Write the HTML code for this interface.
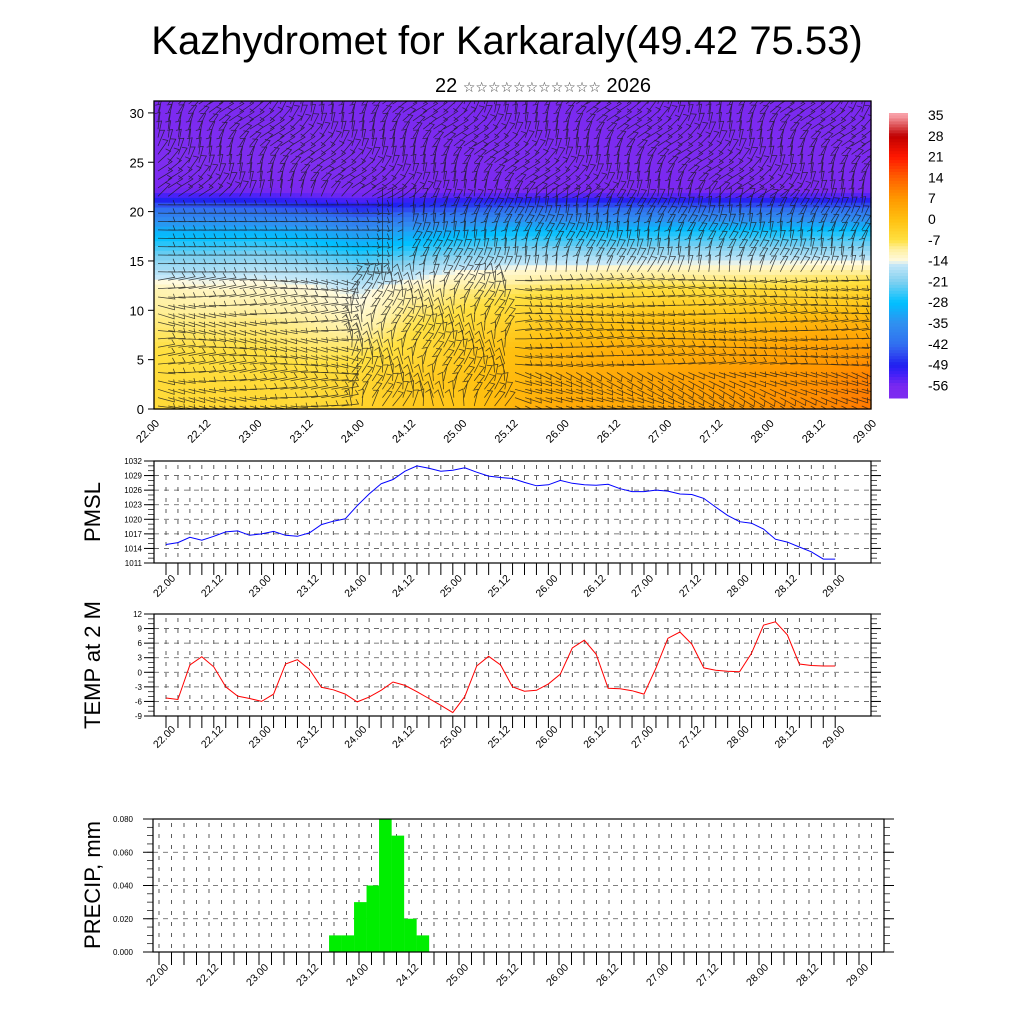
<!DOCTYPE html>
<html><head><meta charset="utf-8"><style>
body{margin:0;background:#fff}
svg{display:block;font-family:"Liberation Sans","DejaVu Sans",sans-serif}
</style></head><body>
<svg id="chart" width="1024" height="1024" viewBox="0 0 1024 1024" xmlns="http://www.w3.org/2000/svg">
<defs><clipPath id="topclip"><rect x="154" y="101" width="717" height="308"/></clipPath></defs>
<text x="507" y="54" font-size="40" text-anchor="middle">Kazhydromet for Karkaraly(49.42 75.53)</text>
<text x="543" y="92" font-size="20" text-anchor="middle">22 <tspan font-size="14" fill="#444">☆☆☆☆☆☆☆☆☆☆☆</tspan> 2026</text>
<g id="field"></g>
<g id="wind" clip-path="url(#topclip)"></g>
<g id="top-axes"></g>
<g id="cbar"></g>
<g id="pmsl"></g>
<g id="temp"></g>
<g id="precip"></g>
</svg>
<script>
const timeLabels=["22.00","22.12","23.00","23.12","24.00","24.12","25.00","25.12","26.00","26.12","27.00","27.12","28.00","28.12","29.00"];
const pmslValues=[1014.8,1015.2,1016.3,1015.7,1016.5,1017.4,1017.6,1016.7,1017.0,1017.5,1016.7,1016.5,1017.2,1018.9,1019.6,1020.1,1022.8,1025.2,1027.3,1028.2,1029.9,1031.0,1030.5,1029.9,1030.1,1030.6,1029.7,1028.9,1028.6,1028.4,1027.6,1026.9,1027.1,1028.0,1027.4,1027.1,1027.0,1027.2,1026.3,1025.7,1025.7,1026.0,1025.8,1025.2,1025.1,1024.3,1022.5,1020.8,1019.5,1019.2,1018.0,1015.9,1015.3,1014.3,1013.3,1011.8,1011.8];
const pmslTicks=[1011,1014,1017,1020,1023,1026,1029,1032];
const tempValues=[-5.3,-5.6,1.5,3.2,1.1,-3.0,-4.9,-5.4,-6.0,-4.5,1.7,2.6,0.6,-3.1,-3.6,-4.5,-6.1,-5.1,-3.7,-2.0,-2.7,-4.0,-5.4,-6.8,-8.3,-5.0,1.3,3.3,1.5,-3.0,-3.9,-3.7,-2.4,-0.4,5.0,6.6,3.7,-3.3,-3.4,-3.8,-4.5,0.9,7.0,8.3,5.8,0.9,0.4,0.2,0.1,3.9,9.7,10.4,7.7,1.7,1.4,1.3,1.3];
const tempTicks=[-9,-6,-3,0,3,6,9,12];
const precipIndex=[14,15,16,17,18,19,20,21];
const precipValues=[0.01,0.01,0.03,0.04,0.08,0.07,0.02,0.01];
const precipTicks=["0.000","0.020","0.040","0.060","0.080"];
const fieldLevels=[0,3,6,9,12,14,16,18,20,21,22,25,31.2];
const fieldRows=[
[-6,-5,-5,-6,-4,-2,-1,2,4,4,5,6,8,9,11],
[-6,-6,-6,-6,-5,-3,-1,1,3,4,5,6,7,8,10],
[-7,-7,-7,-8,-8,-6,-3,0,2,3,3,4,5,6,7],
[-9,-9,-9,-10,-12,-8,-6,-4,-2,-1,0,0,1,2,2],
[-11,-12,-12,-13,-15,-11,-9,-8,-7,-6,-6,-6,-5,-5,-4],
[-17,-17,-16,-17,-20,-17,-14,-13,-12,-11,-11,-11,-11,-10,-10],
[-23,-23,-22,-24,-27,-25,-22,-20,-20,-20,-19,-19,-19,-19,-19],
[-30,-30,-30,-31,-34,-32,-30,-28,-28,-28,-27,-27,-27,-27,-27],
[-40,-40,-41,-43,-46,-44,-42,-40,-40,-40,-40,-40,-40,-40,-40],
[-47,-47,-48,-50,-52,-50,-49,-48,-48,-48,-48,-48,-48,-48,-48],
[-55,-55,-55,-56,-57,-56,-56,-56,-56,-56,-56,-56,-56,-56,-56],
[-60,-61,-61,-62,-60,-59,-58,-59,-59,-59,-58,-59,-60,-59,-58],
[-58,-58,-58,-58,-57,-57,-57,-57,-57,-57,-57,-57,-57,-57,-57]];
const cbarLabels=[35,28,21,14,7,0,-7,-14,-21,-28,-35,-42,-49,-56];

const NS="http://www.w3.org/2000/svg";
function mk(tag,attrs,parent){const e=document.createElementNS(NS,tag);for(const k in attrs)e.setAttribute(k,attrs[k]);parent.appendChild(e);return e;}
const stops=[[-63,[128,48,240]],[-56,[122,40,240]],[-52,[64,32,248]],[-49,[32,32,240]],[-45,[48,80,240]],[-42,[48,112,240]],[-35,[48,144,240]],[-28,[0,192,255]],[-21,[128,208,240]],[-15,[200,232,248]],[-14,[255,250,224]],[-10,[255,240,160]],[-7,[255,224,64]],[0,[255,192,16]],[7,[255,152,0]],[14,[255,96,0]],[21,[255,24,0]],[28,[192,0,0]],[35,[248,160,168]]];
function col(t){if(t<=stops[0][0])return "rgb("+stops[0][1]+")";for(let i=1;i<stops.length;i++){if(t<=stops[i][0]){const a=stops[i-1],b=stops[i],f=(t-a[0])/(b[0]-a[0]);return "rgb("+a[1].map((v,j)=>Math.round(v+(b[1][j]-v)*f)).join(",")+")";}}return "rgb("+stops[stops.length-1][1]+")";}

// ---- top cross-section ----
const TX0=154,TX1=871,TY0=101,TY1=409;
const zy=z=>409-z*9.87;
const fx=c=>TX0+c*(TX1-TX0)/14;
function fieldAt(c,z){let li=0;while(li<fieldLevels.length-2&&z>fieldLevels[li+1])li++;const fz=Math.max(0,Math.min(1,(z-fieldLevels[li])/(fieldLevels[li+1]-fieldLevels[li])));const ci=Math.min(13,Math.floor(c)),fc=c-ci;const r0=fieldRows[li],r1=fieldRows[li+1];const a=r0[ci]+(r0[ci+1]-r0[ci])*fc,b=r1[ci]+(r1[ci+1]-r1[ci])*fc;return a+(b-a)*fz;}
const field=document.getElementById('field');
const NC=112,NR=64;
for(let i=0;i<NC;i++){for(let j=0;j<NR;j++){const c=(i+0.5)/NC*14,zt=31.2*(j+1)/NR,zb=31.2*j/NR,z=(zt+zb)/2;const x=TX0+i*(TX1-TX0)/NC;const r=mk('rect',{x:x.toFixed(2),y:zy(zt).toFixed(2),width:((TX1-TX0)/NC+0.6).toFixed(2),height:(zy(zb)-zy(zt)+0.6).toFixed(2),fill:col(fieldAt(c,z))},field);

}}
// wind barbs (decorative texture)
const wind=document.getElementById('wind');let d="";
for(let x=TX0+4;x<TX1;x+=10.2){for(let z=0.3;z<31.5;z+=0.85){const y=zy(z);const c=(x-TX0)/(TX1-TX0)*14;let ang;
 if(z>21.5)ang=-1.0+0.45*Math.sin(c*1.7+z*0.6);
 else if(z>13.5)ang=c<4.3?0.02:(c<5.0?-1.57:-1.25+0.25*Math.sin(c*2+z));
 else if(c<3.8)ang=0.05+0.25*Math.sin(z*0.8+c);
 else if(c<7)ang=-1.4+0.5*Math.sin(c*3+z*0.7);
 else ang=0.15*Math.cos(c+z)+(z<4?0.4:0);
 const L=17,dx=Math.cos(ang)*L,dy=Math.sin(ang)*L;
 d+="M"+x.toFixed(1)+" "+y.toFixed(1)+"l"+dx.toFixed(1)+" "+dy.toFixed(1)+"l"+(Math.sin(ang)*5-dx*0.12).toFixed(1)+" "+(-Math.cos(ang)*5-dy*0.12).toFixed(1);}}
const wp=mk('path',{d:d,stroke:"#1a1a1a","stroke-width":"0.75",fill:"none",opacity:"0.8"},wind);


const ta=document.getElementById('top-axes');
mk('rect',{x:TX0,y:TY0,width:TX1-TX0,height:TY1-TY0,fill:"none",stroke:"#000","stroke-width":"1.3"},ta);
for(let v=0;v<=30;v+=5){mk('line',{x1:TX0-6,x2:TX0,y1:zy(v),y2:zy(v),stroke:"#000"},ta);const t=mk('text',{x:TX0-10,y:zy(v)+5,"font-size":"13","text-anchor":"end"},ta);t.textContent=v;

}
timeLabels.forEach((lb,i)=>{const x=fx(i);const t=mk('text',{transform:`translate(${x+6},${424}) rotate(-45)`,"font-size":"11","text-anchor":"end"},ta);t.textContent=lb;

});
// colorbar
const cb=document.getElementById('cbar');
const cy=t=>115+(35-t)*(20.8/7);
for(let t=-63;t<37;t+=1){const y0=Math.max(113,cy(t+1)),y1=Math.min(398,cy(t));if(y1<=y0)continue;const r=mk('rect',{x:889,y:y0,width:19,height:y1-y0+0.5,fill:col(t+0.5)},cb);

}
cbarLabels.forEach(v=>{const t=mk('text',{x:928,y:cy(v)+5,"font-size":"14"},cb);t.textContent=v;

});

// ---- line panels ----
function panel(gid,y0,y1,vmin,vmax,ticks,minorStep,vals,color,title,titleY,labelY){
 const g=document.getElementById(gid);const X0=154,X1=871;const sx=i=>166+i*11.95;const sy=v=>y1-(v-vmin)/(vmax-vmin)*(y1-y0);
 for(let i=0;i<=56;i++){mk('line',{x1:sx(i),x2:sx(i),y1:y0+4,y2:y1-2,stroke:"#333","stroke-width":"0.8","stroke-dasharray":"4 7"},g);mk('line',{x1:sx(i),x2:sx(i),y1:y1,y2:y1+12,stroke:"#000","stroke-width":"1"},g);}
 ticks.forEach(v=>{if(v>vmin&&v<vmax)mk('line',{x1:X0,x2:X1,y1:sy(v),y2:sy(v),stroke:"#555","stroke-width":"0.8","stroke-dasharray":"5 5"},g);mk('line',{x1:X0-10,x2:X0,y1:sy(v),y2:sy(v),stroke:"#000"},g);mk('line',{x1:X1,x2:X1+10,y1:sy(v),y2:sy(v),stroke:"#000"},g);const t=mk('text',{x:X0-12,y:sy(v)+3,"font-size":"8","text-anchor":"end"},g);t.textContent=v;
 
 });
 for(let v=vmin;v<=vmax;v+=minorStep){mk('line',{x1:X0-6,x2:X0,y1:sy(v),y2:sy(v),stroke:"#000","stroke-width":"0.7"},g);mk('line',{x1:X1,x2:X1+6,y1:sy(v),y2:sy(v),stroke:"#000","stroke-width":"0.7"},g);}
 mk('rect',{x:X0,y:y0,width:X1-X0,height:y1-y0,fill:"none",stroke:"#000","stroke-width":"1.2"},g);
 const ln=mk('polyline',{points:vals.map((v,i)=>sx(i).toFixed(1)+","+sy(v).toFixed(1)).join(" "),fill:"none",stroke:color,"stroke-width":"1"},g);
 
 
 timeLabels.forEach((lb,k)=>{if(k>14)return;const x=sx(k*4);const t=mk('text',{transform:`translate(${x+10},${labelY}) rotate(-45)`,"font-size":"10.5","text-anchor":"end"},g);t.textContent=lb;
 
 });
 const tt=mk('text',{transform:`translate(${100},${titleY}) rotate(-90)`,"font-size":"22","text-anchor":"middle"},g);tt.textContent=title;
 
 
}
panel('pmsl',461,563,1011,1032,pmslTicks,1,pmslValues,"#0000ff","PMSL",512,579);
panel('temp',614,716,-9,12,tempTicks,1,tempValues,"#ff0000","TEMP at 2 M",665,730);

// ---- precip ----
(function(){const g=document.getElementById('precip');const X0=153,X1=884,Y0=819,Y1=952;const sx=i=>159+i*12.5;const sy=v=>Y1-v/0.08*(Y1-Y0);
 for(let i=0;i<=57;i++){const x=sx(i);if(x>X1)break;mk('line',{x1:x,x2:x,y1:Y0+4,y2:Y1-2,stroke:"#333","stroke-width":"0.8","stroke-dasharray":"4 7"},g);mk('line',{x1:x,x2:x,y1:Y1,y2:Y1+13,stroke:"#000"},g);}
 precipTicks.forEach(s=>{const v=parseFloat(s);const y=sy(v);if(v>0&&v<0.08)mk('line',{x1:X0,x2:X1,y1:y,y2:y,stroke:"#555","stroke-width":"0.8","stroke-dasharray":"5 5"},g);mk('line',{x1:X0-10,x2:X0,y1:y,y2:y,stroke:"#000"},g);mk('line',{x1:X1,x2:X1+10,y1:y,y2:y,stroke:"#000"},g);const t=mk('text',{x:X0-20,y:y+3,"font-size":"8","text-anchor":"end"},g);t.textContent=s;
 
 });
 for(let k=0;k<=16;k++){const y=sy(k*0.005);mk('line',{x1:X0-6,x2:X0,y1:y,y2:y,stroke:"#000","stroke-width":"0.7"},g);mk('line',{x1:X1,x2:X1+6,y1:y,y2:y,stroke:"#000","stroke-width":"0.7"},g);}
 precipIndex.forEach((idx,k)=>{const v=precipValues[k];const b=mk('rect',{x:sx(idx)-6.25+1.3,y:sy(v),width:12.6,height:Y1-sy(v),fill:"#00ee00"},g);
 
 });
 mk('rect',{x:X0,y:Y0,width:X1-X0,height:Y1-Y0,fill:"none",stroke:"#000","stroke-width":"1.2"},g);
 timeLabels.forEach((lb,k)=>{const x=sx(k*4);const t=mk('text',{transform:`translate(${x+10},${968}) rotate(-45)`,"font-size":"10.5","text-anchor":"end"},g);t.textContent=lb;
 
 });
 const tt=mk('text',{transform:`translate(100,885) rotate(-90)`,"font-size":"22","text-anchor":"middle"},g);tt.textContent="PRECIP, mm";
 
 
})();
</script>
</body></html>
